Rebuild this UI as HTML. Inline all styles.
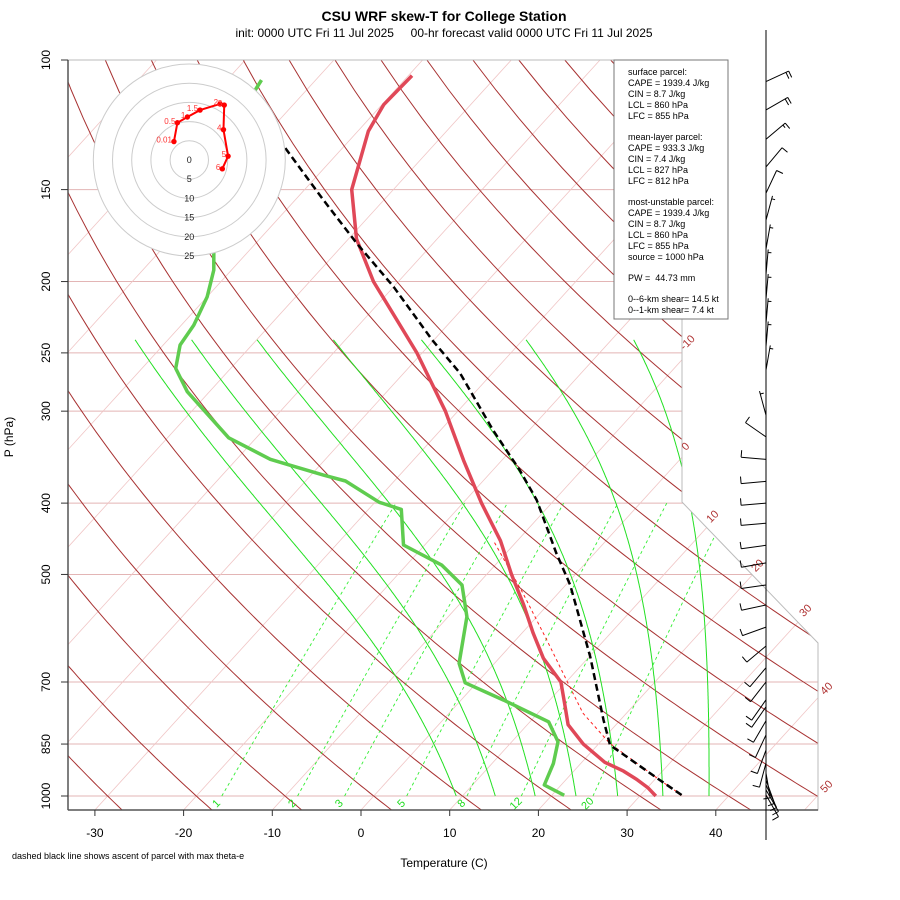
<!DOCTYPE html>
<html><head><meta charset="utf-8"><style>
body{margin:0;background:#fff}
svg{display:block;font-family:"Liberation Sans",sans-serif}
</style></head><body>
<svg id="c" width="900" height="900" viewBox="0 0 900 900" xmlns="http://www.w3.org/2000/svg">
<defs><clipPath id="plotclip"><polygon points="68,60 682,60 682,502 818,643 818,810 68,810"/></clipPath></defs>
<rect width="900" height="900" fill="#fff"/>
<text x="444" y="21" text-anchor="middle" font-size="14" font-weight="bold">CSU WRF skew-T for College Station</text>
<text x="444" y="37" text-anchor="middle" font-size="12" xml:space="preserve">init: 0000 UTC Fri 11 Jul 2025     00-hr forecast valid 0000 UTC Fri 11 Jul 2025</text>
<g id="grid" clip-path="url(#plotclip)"></g>
<g id="series" clip-path="url(#plotclip)"></g>
<polygon points="68,60 682,60 682,502 818,643 818,810 68,810" fill="none" stroke="#bbb" stroke-width="1"/>
<g id="axes"></g>
<g id="hodo"></g>
<g id="barbs"></g>
<g>
<rect x="614" y="60" width="114" height="259" fill="#fff" stroke="#777" stroke-width="1"/>
<g font-size="9" fill="#000">
<text x="628" y="75">surface parcel:</text>
<text x="628" y="86">CAPE = 1939.4 J/kg</text>
<text x="628" y="97">CIN = 8.7 J/kg</text>
<text x="628" y="108">LCL = 860 hPa</text>
<text x="628" y="119">LFC = 855 hPa</text>
<text x="628" y="140">mean-layer parcel:</text>
<text x="628" y="151">CAPE = 933.3 J/kg</text>
<text x="628" y="162">CIN = 7.4 J/kg</text>
<text x="628" y="173">LCL = 827 hPa</text>
<text x="628" y="184">LFC = 812 hPa</text>
<text x="628" y="205">most-unstable parcel:</text>
<text x="628" y="216">CAPE = 1939.4 J/kg</text>
<text x="628" y="227">CIN = 8.7 J/kg</text>
<text x="628" y="238">LCL = 860 hPa</text>
<text x="628" y="249">LFC = 855 hPa</text>
<text x="628" y="260">source = 1000 hPa</text>
<text x="628" y="281" xml:space="preserve">PW =  44.73 mm</text>
<text x="628" y="302">0--6-km shear= 14.5 kt</text>
<text x="628" y="313">0--1-km shear= 7.4 kt</text>
</g></g>
<text x="444" y="867" text-anchor="middle" font-size="12">Temperature (C)</text>
<text x="13" y="437" text-anchor="middle" font-size="12" transform="rotate(-90 13 437)">P (hPa)</text>
<text x="12" y="859" font-size="9">dashed black line shows ascent of parcel with max theta-e</text>
<script>
// ---- data ----
const tP=[1000,975,950,925,900,850,800,750,700,650,600,550,500,450,400,350,300,250,200,175,150,125,115,105];
const tT=[31.8,30.1,28.0,25.6,22.6,18.3,14.6,12.1,9.4,5.0,1.2,-2.7,-7.2,-11.9,-17.9,-24.3,-31.4,-40.6,-52.8,-59.1,-64.7,-68.8,-69.8,-69.6];
const dP=[997.9,966.3,902.9,843.8,792.9,740.8,701.8,660.1,570.6,516.8,485.7,456.0,407.9,399,373.3,366.4,354.3,348.8,326.1,282.3,262.4,243.9,229.2,209.7,192.9,183.1,150,109.8,106.5];
const dT=[21.4,18.1,16.9,15.2,12.1,4.8,-1.3,-4.0,-7.9,-11.7,-16.0,-22.4,-26.3,-29.5,-35.5,-38.6,-43.8,-46.2,-53.1,-62.5,-66.2,-68.1,-68.6,-70.0,-72.0,-73.7,-80,-85.8,-86.1];
const pP=[996.8,951.3,852.5,788.2,646.6,516.8,468.1,396.1,360.6,318.3,266.6,240.1,203.3,177.5,155.0,131.6];
const pT=[34.6,30.6,21.4,18.1,10.1,0.5,-4.3,-12.0,-17.0,-24.1,-33.6,-40.2,-50.0,-58.6,-66.8,-76.5];
const vP=[996.8,951.3,848,771.9,710.5,613.8,530,449];
const vT=[34.6,30.6,21.2,15.1,10.9,3.5,-4.0,-12.8];
const hLab=["0.01","0.5","1","1.5","2","3","4","5","6"];
const hU=[-4.0,-3.1,-0.5,2.8,8.0,9.1,8.9,10.1,8.6];
const hV=[4.8,9.7,11.2,13.0,14.6,14.3,7.9,1.0,-2.3];
const bP=[107,116.9,128.1,139.7,151.7,165,180.7,195.6,211.2,227.8,245,263.8,303.9,325.2,348.9,373.7,400,426,456.5,482.3,516.8,550.2,589.5,625.5,669.3,700,740,756.6,790,826,866,902,931,951,966,981,997];
const bDir=[65,60,50,40,25,15,10,5,5,5,5,10,345,305,275,265,265,265,262,260,262,258,250,230,220,218,215,215,210,205,200,195,170,160,155,150,150];
const bSpd=[20,20,15,10,10,5,5,5,5,5,5,5,5,10,10,10,10,10,10,10,10,10,10,10,10,10,10,10,10,10,10,10,10,10,10,10,10];
const pLevels=[100,150,200,250,300,400,500,700,850,1000];
const xTicks=[-30,-20,-10,0,10,20,30,40];
const isoLabels=[-10,0,10,20,30,40,50];
const mixRatios=[1,2,3,5,8,12,20];
const moistT0=[9.3,13.7,18.2,22.8,27.5,32.6,37.8];
const hodoRings=[5,10,15,20,25];

// ---- axis functions ----
const X0=361,KX=8.87,YB=810,SK=0.91;
function yP(P){return 60+736*Math.log10(P/100);}
function xTP(T,P){return X0+KX*T+SK*(YB-yP(P));}
const NS="http://www.w3.org/2000/svg";
function mk(tag,attrs,parent){const e=document.createElementNS(NS,tag);for(const k in attrs)e.setAttribute(k,attrs[k]);parent.appendChild(e);return e;}
function pathTP(Ps,Ts){return Ps.map((p,i)=>(i?'L':'M')+xTP(Ts[i],p).toFixed(1)+','+yP(p).toFixed(1)).join('');}
const grid=document.getElementById('grid'),series=document.getElementById('series'),axes=document.getElementById('axes');

pLevels.forEach(p=>{const l=mk('line',{x1:68,x2:818,y1:yP(p),y2:yP(p),stroke:'#e3b5b5','stroke-width':1},grid);

});
for(let T=-160;T<=60;T+=10){const l=mk('line',{x1:X0+KX*T,y1:YB,x2:X0+KX*T+SK*750,y2:60,stroke:'#f0c6c6','stroke-width':0.8},grid);

}
for(let th=-40;th<=200;th+=10){const Ps=[],Ts=[];for(let p=1050;p>=100;p-=10){Ps.push(p);Ts.push((th+273.15)*Math.pow(p/1000,0.2857)-273.15);}
const e=mk('path',{d:pathTP(Ps,Ts),fill:'none',stroke:'#a83232','stroke-width':1},grid);

}
function es(Tc){return 6.112*Math.exp(17.67*Tc/(Tc+243.5));}
moistT0.forEach(t0=>{const f=0.86-(t0-9.3)*0.0084;let T=t0+273.15;const Ps=[1000],Ts=[t0];for(let p=1000;p>240;p-=2){const e=es(T-273.15),rs=f*0.622*e/(p-e);
const dTdP=(287*T+2.5e6*rs)/(p*(1005+2.5e6*2.5e6*rs*0.622/(287*T*T)));T+=dTdP*(-2);Ps.push(p-2);Ts.push(T-273.15);}
const e=mk('path',{d:pathTP(Ps,Ts),fill:'none',stroke:'#22e022','stroke-width':1},grid);

});
mixRatios.forEach(w=>{const Ps=[],Ts=[];for(let p=1000;p>=400;p-=20){const e=w*p/(622+w),l=Math.log(e/6.112);Ps.push(p);Ts.push(243.5*l/(17.67-l));}
const e=mk('path',{d:pathTP(Ps,Ts),fill:'none',stroke:'#33ee33','stroke-width':0.9,'stroke-dasharray':'3,3'},grid);


const e2=1000*w/(622+w),l2=Math.log(e2/6.112),td=243.5*l2/(17.67-l2);const x=xTP(td,1000)-3,y=806;
const t=mk('text',{x:x,y:y,'font-size':11,fill:'#22dd22','text-anchor':'middle',transform:'rotate(-45 '+x+' '+y+')'},axes);t.textContent=w;

});

const sv=[[vP,vT,'#ff2020',1,'3,3','virtual-parcel-line'],[dP,dT,'#5fcc4f',3.5,'','dewpoint-line'],[tP,tT,'#e04858',3.5,'','temperature-line'],[pP,pT,'#000',2.5,'7,4','parcel-ascent-line']];
sv.forEach(s=>{const e=mk('path',{d:pathTP(s[0],s[1]),fill:'none',stroke:s[2],'stroke-width':s[3],'stroke-linejoin':'round'},series);if(s[4])e.setAttribute('stroke-dasharray',s[4]);

});

mk('line',{x1:68,y1:60,x2:68,y2:810,stroke:'#555','stroke-width':1.5},axes);
mk('line',{x1:68,y1:810,x2:818,y2:810,stroke:'#555','stroke-width':1.5},axes);
pLevels.forEach(p=>{const y=yP(p);mk('line',{x1:61,x2:68,y1:y,y2:y,stroke:'#333'},axes);
const t=mk('text',{x:50,y:y,'font-size':12,'text-anchor':'middle',transform:'rotate(-90 50 '+y+')'},axes);t.textContent=p;

});
xTicks.forEach(T=>{const x=X0+KX*T;mk('line',{x1:x,x2:x,y1:810,y2:816,stroke:'#333'},axes);
const t=mk('text',{x:x,y:837,'font-size':12,'text-anchor':'middle'},axes);t.textContent=T;

});
const isoPos={"-10":[690,345],"0":[688,449],"10":[715,519],"20":[760,568],"30":[808,613],"40":[829,691],"50":[829,789]};
isoLabels.forEach(T=>{const p=isoPos[String(T)];const t=mk('text',{x:p[0],y:p[1],'font-size':11,fill:'#b03535','text-anchor':'middle',transform:'rotate(-45 '+p[0]+' '+p[1]+')'},axes);t.textContent=T;

});

const hodo=document.getElementById('hodo'),HX=189.3,HY=160,HK=3.84;
for(let i=hodoRings.length-1;i>=0;i--){mk('circle',{cx:HX,cy:HY,r:hodoRings[i]*HK,fill:'#fff',stroke:'#ccc','stroke-width':1},hodo);}
hodoRings.forEach(r=>{const t=mk('text',{x:HX,y:HY+r*HK+3,'font-size':9,'text-anchor':'middle',fill:'#222'},hodo);t.textContent=r;

});
const z=mk('text',{x:HX,y:HY+3,'font-size':9,'text-anchor':'middle',fill:'#222'},hodo);z.textContent='0';
mk('path',{d:hU.map((u,i)=>(i?'L':'M')+(HX+u*HK)+','+(HY-hV[i]*HK)).join(''),fill:'none',stroke:'#f00','stroke-width':2},hodo);
hU.forEach((u,i)=>{const x=HX+u*HK,y=HY-hV[i]*HK;const c=mk('circle',{cx:x,cy:y,r:2.7,fill:'#f00'},hodo);


const t=mk('text',{x:x-2,y:y+1,'font-size':8,fill:'#f33','text-anchor':'end'},hodo);t.textContent=hLab[i];

});

const bg=document.getElementById('barbs');
mk('line',{x1:766,y1:30,x2:766,y2:840,stroke:'#000','stroke-width':1},bg);
bP.forEach((p,i)=>{const y=yP(p),r=bDir[i]*Math.PI/180,dx=Math.sin(r),dy=-Math.cos(r),L=25;
const tx=766+L*dx,ty=y+L*dy,px=-dy,py=dx;let d='M766,'+y.toFixed(1)+'L'+tx.toFixed(1)+','+ty.toFixed(1);
let s=bSpd[i],k=0;while(s>=10){const bx=tx-k*3*dx,by=ty-k*3*dy;d+='M'+bx.toFixed(1)+','+by.toFixed(1)+'l'+(7*px).toFixed(1)+','+(7*py).toFixed(1);s-=10;k++;}
if(s>=5){if(k===0)k=1;const bx=tx-k*3*dx,by=ty-k*3*dy;d+='M'+bx.toFixed(1)+','+by.toFixed(1)+'l'+(3.5*px).toFixed(1)+','+(3.5*py).toFixed(1);}
const e=mk('path',{d:d,fill:'none',stroke:'#000','stroke-width':1},bg);

});
</script>
</svg>
</body></html>
